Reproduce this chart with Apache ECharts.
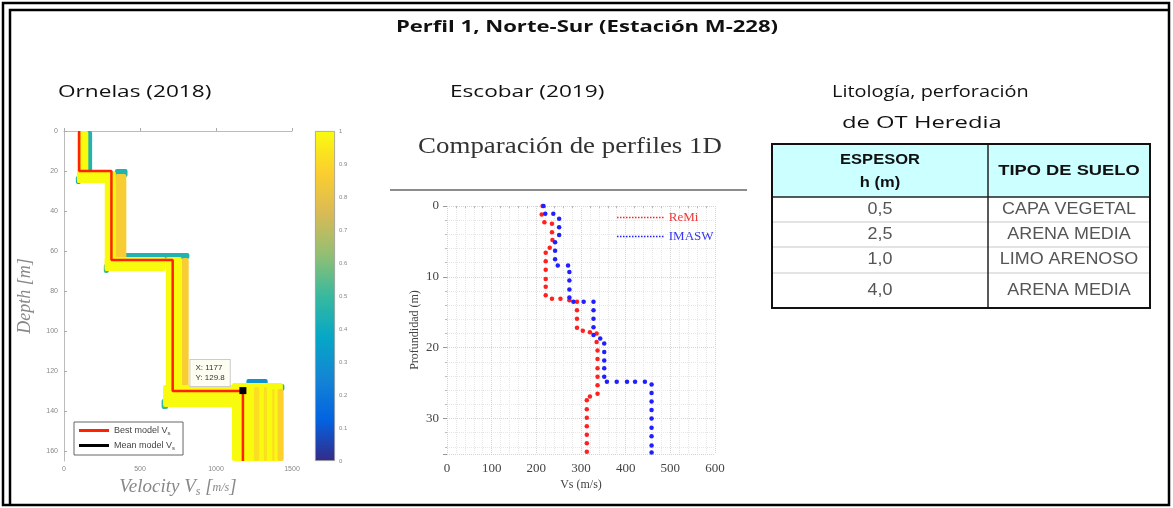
<!DOCTYPE html>
<html>
<head>
<meta charset="utf-8">
<script src="https://cdn.jsdelivr.net/npm/echarts@6/dist/echarts.min.js"></script>
<style>
html, body { margin: 0; padding: 0; background: #fff; }
#chart { width: 1173px; height: 508px; }
</style>
</head>
<body>
<div id="chart"></div>
<script>
// --- Ornelas (2018): modelo 1D de Vs ---
var bestVs = [100, 100, 312, 312, 715, 715, 1177, 1177];
var bestDepth = [0, 20, 20, 64.5, 64.5, 130, 130, 165];
var meanVs = [1177];
var meanDepth = [129.8];
// banda de modelos: [vMin, vMax, profTop, profBottom, densidad]
var bandCells = [
    [150, 185, 0, 21, 0.45],
    [78, 112, 22.5, 26.5, 0.4],
    [335, 418, 19, 23, 0.45],
    [262, 295, 66.5, 71, 0.5],
    [400, 825, 61, 64, 0.45],
    [642, 685, 134, 139, 0.5],
    [1200, 1340, 124, 127, 0.3],
    [1330, 1450, 126.5, 130, 0.45],
    [85, 160, 0, 26, 1],
    [85, 340, 20, 26, 1],
    [268, 338, 20, 70, 1],
    [338, 410, 21.5, 70, 0.86],
    [268, 670, 63, 70, 1],
    [670, 775, 63, 138, 1],
    [775, 820, 63.5, 130, 0.86],
    [652, 1110, 127, 138, 1],
    [1105, 1440, 126, 165, 1],
    [1250, 1285, 128, 165, 0.92],
    [1315, 1335, 128, 165, 0.92],
    [1370, 1385, 129, 165, 0.92],
    [1405, 1445, 129, 165, 0.88]
];
var parula = ['#352a87', '#0363e1', '#1485d4', '#06a7c6', '#38b99e', '#92bf73', '#d9ba56', '#fcce2e', '#f9fb0e'];

// --- Escobar (2019): ReMi y MASW ---
var remiVs = [214, 212, 218, 235, 235, 236, 230, 221, 221, 221, 221, 221, 221, 235, 254, 274, 291, 291, 291, 291, 304, 320, 335, 335, 337, 337, 337, 337, 337, 337, 320, 313, 313, 313, 313, 313, 313, 313];
var remiDepth = [0, 1.2, 2.3, 2.5, 3.7, 4.8, 5.9, 6.6, 7.8, 9.0, 10.3, 11.4, 12.6, 13.1, 13.1, 13.3, 13.5, 14.7, 15.9, 17.2, 17.6, 17.8, 18.0, 19.2, 20.4, 21.6, 22.9, 24.1, 25.3, 26.5, 26.9, 27.4, 28.7, 29.9, 31.1, 32.3, 33.5, 34.7];
var maswVs = [216, 220, 238, 251, 251, 251, 242, 242, 242, 248, 271, 274, 274, 274, 274, 283, 306, 328, 328, 328, 328, 328, 343, 352, 352, 352, 352, 352, 358, 380, 403, 421, 443, 458, 458, 458, 458, 458, 458, 458, 458, 458];
var maswDepth = [0, 1.1, 1.1, 1.8, 3.0, 4.1, 5.1, 6.3, 7.5, 8.4, 8.4, 9.3, 10.5, 11.8, 12.9, 13.5, 13.5, 13.5, 14.7, 15.9, 17.1, 18.2, 18.7, 19.4, 20.6, 21.8, 22.9, 24.1, 24.8, 24.8, 24.8, 24.8, 24.8, 25.2, 26.4, 27.6, 28.8, 30.0, 31.3, 32.5, 33.8, 34.8];

// --- Litologia ---
var tableHeader = ['ESPESOR', 'h (m)', 'TIPO DE SUELO'];
var espesor = ['0,5', '2,5', '1,0', '4,0'];
var tipoSuelo = ['CAPA VEGETAL', 'ARENA MEDIA', 'LIMO ARENOSO', 'ARENA MEDIA'];

function pairs(a, b) {
    return a.map(function (v, i) { return [v, b[i]]; });
}

function dottedIcon() {
    var p = 'path://';
    for (var i = 0; i < 16; i++) {
        p += 'M' + (i * 6) + ',0h3v3h-3z';
    }
    return p;
}

// texto estirado en horizontal como en la imagen original
function stretchedText(x, y, text, font, sx, align, color) {
    return {
        type: 'text', x: x, y: y, scaleX: sx, originX: 0, originY: 0,
        style: {text: text, font: font, align: align || 'left', verticalAlign: 'middle', fill: color || '#111'}
    };
}

var dom = document.getElementById('chart');
var myChart = echarts.init(dom);

// tabla como elementos graficos
var tx0 = 772, tx1 = 988, tx2 = 1150;
var rowY = [144, 197, 222, 247, 273, 308];
var tableEls = [];
tableEls.push({type: 'rect', shape: {x: tx0, y: rowY[0], width: tx2 - tx0, height: rowY[1] - rowY[0]}, style: {fill: '#ccffff'}});
for (var r = 2; r < rowY.length - 1; r++) {
    tableEls.push({type: 'line', shape: {x1: tx0, y1: rowY[r], x2: tx2, y2: rowY[r]}, style: {stroke: '#c8c8c8', lineWidth: 1}});
}
tableEls.push({type: 'line', shape: {x1: tx0, y1: rowY[1], x2: tx2, y2: rowY[1]}, style: {stroke: '#222', lineWidth: 1.5}});
tableEls.push({type: 'line', shape: {x1: tx1, y1: rowY[0], x2: tx1, y2: rowY[5]}, style: {stroke: '#222', lineWidth: 1.5}});
tableEls.push({type: 'rect', shape: {x: tx0, y: rowY[0], width: tx2 - tx0, height: rowY[5] - rowY[0]}, style: {fill: 'none', stroke: '#111', lineWidth: 2}});
var c1 = (tx0 + tx1) / 2, c2 = (tx1 + tx2) / 2;
var headFont = 'bold 15px "Liberation Sans"';
var cellFont = '16px "Liberation Sans"';
tableEls.push(stretchedText(c1, 160, tableHeader[0], headFont, 1.1, 'center'));
tableEls.push(stretchedText(c1, 183, tableHeader[1], headFont, 1.1, 'center'));
tableEls.push(stretchedText(c2, 171, tableHeader[2], headFont, 1.22, 'center'));
for (var i = 0; i < espesor.length; i++) {
    var cy = (rowY[i + 1] + rowY[i + 2]) / 2;
    tableEls.push(stretchedText(c1, cy, espesor[i], cellFont, 1.12, 'center', '#555'));
    tableEls.push(stretchedText(c2, cy, tipoSuelo[i], cellFont, 1.12, 'center', '#555'));
}

var cbStops = parula.map(function (c, i) {
    return {offset: 1 - i / (parula.length - 1), color: c};
});

var option = {
    animation: false,
    backgroundColor: '#fff',
    graphic: [
        {type: 'rect', shape: {x: 3, y: 3, width: 1166, height: 502}, style: {fill: 'none', stroke: '#000', lineWidth: 2.5}},
        {type: 'polyline', shape: {points: [[10, 504], [10, 10], [1168, 10]]}, style: {fill: 'none', stroke: '#000', lineWidth: 2.5}},
        stretchedText(587, 27, 'Perfil 1, Norte-Sur (Estación M-228)', 'bold 16px "Open Sans"', 1.38, 'center'),
        stretchedText(58, 92, 'Ornelas (2018)', '17px "Open Sans"', 1.33),
        stretchedText(450, 92, 'Escobar (2019)', '17px "Open Sans"', 1.33),
        stretchedText(832, 92, 'Litología, perforación', '17px "Open Sans"', 1.17),
        stretchedText(842, 123, 'de OT Heredia', '17px "Open Sans"', 1.4),
        stretchedText(570, 147, 'Comparación de perfiles 1D', '24px "Liberation Serif"', 1.12, 'center', '#333'),
        {type: 'line', shape: {x1: 390, y1: 190, x2: 747, y2: 190}, style: {stroke: '#666', lineWidth: 1.5}},
        {type: 'group', children: tableEls}
    ],
    visualMap: {
        show: false,
        type: 'continuous',
        min: 0,
        max: 1,
        dimension: 4,
        seriesIndex: 0,
        inRange: {color: parula}
    },
    legend: [
        {
            orient: 'vertical',
            left: 74,
            top: 422,
            padding: [4, 8, 4, 5],
            itemGap: 5,
            itemWidth: 30,
            itemHeight: 3,
            backgroundColor: '#fff',
            borderColor: '#666',
            borderWidth: 1,
            borderRadius: 0,
            data: [
                {name: 'Best model Vs', icon: 'rect'},
                {name: 'Mean model Vs', icon: 'rect'}
            ],
            formatter: function (name) {
                return name.replace(/Vs$/, 'V{sub|s}');
            },
            textStyle: {
                fontSize: 9,
                color: '#444',
                fontFamily: 'Liberation Sans',
                rich: {sub: {fontSize: 6, padding: [5, 0, 0, 0], color: '#444'}}
            }
        },
        {
            orient: 'vertical',
            left: 612,
            top: 206,
            itemGap: 6,
            itemWidth: 47,
            itemHeight: 1.5,
            data: [
                {name: 'ReMi', icon: dottedIcon(), textStyle: {color: '#f03838'}},
                {name: 'IMASW', icon: dottedIcon(), textStyle: {color: '#3838f0'}}
            ],
            textStyle: {fontFamily: 'Liberation Serif', fontSize: 13}
        }
    ],
    grid: [
        {left: 64, top: 131, width: 228, height: 330},
        {left: 315, top: 131, width: 20, height: 330},
        {left: 447, top: 206, width: 268, height: 248}
    ],
    xAxis: [
        {
            gridIndex: 0,
            type: 'value',
            min: 0,
            max: 1500,
            interval: 500,
            name: 'Velocity V{s|s} [{f|m/s}]',
            nameLocation: 'middle',
            nameGap: 16,
            nameTextStyle: {
                fontFamily: 'Liberation Serif', fontStyle: 'italic', fontSize: 19, color: '#888',
                rich: {s: {fontSize: 12, padding: [8, 0, 0, 0], fontStyle: 'italic', color: '#888', fontFamily: 'Liberation Serif'},
                       f: {fontSize: 12, fontStyle: 'italic', color: '#888', fontFamily: 'Liberation Serif'}}
            },
            axisLine: {lineStyle: {color: '#bbb'}},
            axisTick: {inside: true, length: 3, lineStyle: {color: '#aaa'}},
            axisLabel: {fontSize: 7, color: '#888', margin: 5, formatter: function (v) { return String(v); }},
            splitLine: {show: false}
        },
        {
            gridIndex: 1,
            type: 'category',
            data: [''],
            show: false
        },
        {
            gridIndex: 2,
            type: 'value',
            min: 0,
            max: 600,
            interval: 100,
            name: 'Vs (m/s)',
            nameLocation: 'middle',
            nameGap: 25,
            nameTextStyle: {fontFamily: 'Liberation Serif', fontSize: 12, color: '#444'},
            axisLine: {show: false},
            axisTick: {show: false},
            minorTick: {show: true, splitNumber: 5, length: 2, lineStyle: {color: '#bbb'}},
            axisLabel: {fontFamily: 'Liberation Serif', fontSize: 13, color: '#444', margin: 8},
            splitLine: {show: true, lineStyle: {color: '#d4d4d4', type: 'dotted'}},
            minorSplitLine: {show: true, lineStyle: {color: '#e6e6e6', type: 'dotted'}}
        }
    ],
    yAxis: [
        {
            gridIndex: 0,
            type: 'value',
            inverse: true,
            min: 0,
            max: 165,
            interval: 20,
            name: 'Depth [m]',
            nameLocation: 'middle',
            nameGap: 30,
            nameTextStyle: {fontFamily: 'Liberation Serif', fontStyle: 'italic', fontSize: 18, color: '#888'},
            axisLine: {lineStyle: {color: '#bbb'}},
            axisTick: {inside: true, length: 3, lineStyle: {color: '#aaa'}},
            axisLabel: {fontSize: 7, color: '#888', margin: 6, showMaxLabel: false},
            splitLine: {show: false}
        },
        {
            gridIndex: 1,
            type: 'value',
            position: 'right',
            min: 0,
            max: 1,
            interval: 0.1,
            axisLine: {show: false},
            axisTick: {inside: true, length: 3, lineStyle: {color: '#666'}},
            axisLabel: {fontSize: 6, color: '#888', margin: 4},
            splitLine: {show: false}
        },
        {
            gridIndex: 2,
            type: 'value',
            inverse: true,
            min: 0,
            max: 35,
            interval: 10,
            name: 'Profundidad (m)',
            nameLocation: 'middle',
            nameGap: 26,
            nameTextStyle: {fontFamily: 'Liberation Serif', fontSize: 12, color: '#444'},
            axisLine: {show: false},
            axisTick: {show: true, length: 4, lineStyle: {color: '#999'}},
            minorTick: {show: true, splitNumber: 5, length: 2, lineStyle: {color: '#bbb'}},
            axisLabel: {fontFamily: 'Liberation Serif', fontSize: 13, color: '#444', margin: 8, showMaxLabel: false},
            splitLine: {show: true, lineStyle: {color: '#d4d4d4', type: 'dotted'}},
            minorSplitLine: {show: true, lineStyle: {color: '#e6e6e6', type: 'dotted'}}
        }
    ],
    series: [
        {
            name: 'band',
            type: 'custom',
            xAxisIndex: 0,
            yAxisIndex: 0,
            z: 1,
            encode: {x: [0, 1], y: [2, 3]},
            data: bandCells,
            renderItem: function (params, api) {
                var p0 = api.coord([api.value(0), api.value(2)]);
                var p1 = api.coord([api.value(1), api.value(3)]);
                return {
                    type: 'rect',
                    shape: {
                        x: Math.min(p0[0], p1[0]),
                        y: Math.min(p0[1], p1[1]),
                        width: Math.abs(p1[0] - p0[0]),
                        height: Math.abs(p1[1] - p0[1]),
                        r: 2
                    },
                    style: {fill: api.visual('color')}
                };
            }
        },
        {
            name: 'Best model Vs',
            type: 'line',
            xAxisIndex: 0,
            yAxisIndex: 0,
            z: 3,
            symbol: 'none',
            color: '#ff2200',
            lineStyle: {color: '#ff2200', width: 2.5},
            data: pairs(bestVs, bestDepth)
        },
        {
            name: 'Mean model Vs',
            type: 'line',
            xAxisIndex: 0,
            yAxisIndex: 0,
            z: 4,
            symbol: 'rect',
            symbolSize: 7,
            color: '#000',
            itemStyle: {color: '#000'},
            lineStyle: {color: '#000', width: 4},
            label: {
                show: true,
                position: [-49, -27],
                formatter: function (p) {
                    return 'X: ' + p.value[0] + '\nY: ' + p.value[1];
                },
                fontSize: 8,
                lineHeight: 10,
                color: '#333',
                backgroundColor: '#fdfdf2',
                borderColor: '#ccc',
                borderWidth: 1,
                padding: [3, 5]
            },
            data: pairs(meanVs, meanDepth)
        },
        {
            name: 'colorbar',
            type: 'bar',
            xAxisIndex: 1,
            yAxisIndex: 1,
            barWidth: '100%',
            itemStyle: {
                color: new echarts.graphic.LinearGradient(0, 0, 0, 1, cbStops),
                borderColor: '#999',
                borderWidth: 0.8
            },
            data: [1]
        },
        {
            name: 'ReMi',
            type: 'line',
            xAxisIndex: 2,
            yAxisIndex: 2,
            symbol: 'circle',
            symbolSize: 4.5,
            showAllSymbol: true,
            color: '#ff2020',
            itemStyle: {color: '#ff2020'},
            lineStyle: {opacity: 0},
            data: pairs(remiVs, remiDepth)
        },
        {
            name: 'IMASW',
            type: 'line',
            xAxisIndex: 2,
            yAxisIndex: 2,
            symbol: 'circle',
            symbolSize: 4.5,
            showAllSymbol: true,
            color: '#1f1fff',
            itemStyle: {color: '#1f1fff'},
            lineStyle: {opacity: 0},
            data: pairs(maswVs, maswDepth)
        }
    ]
};

if (option && typeof option === 'object') {
    myChart.setOption(option, true);
}
</script>
</body>
</html>
